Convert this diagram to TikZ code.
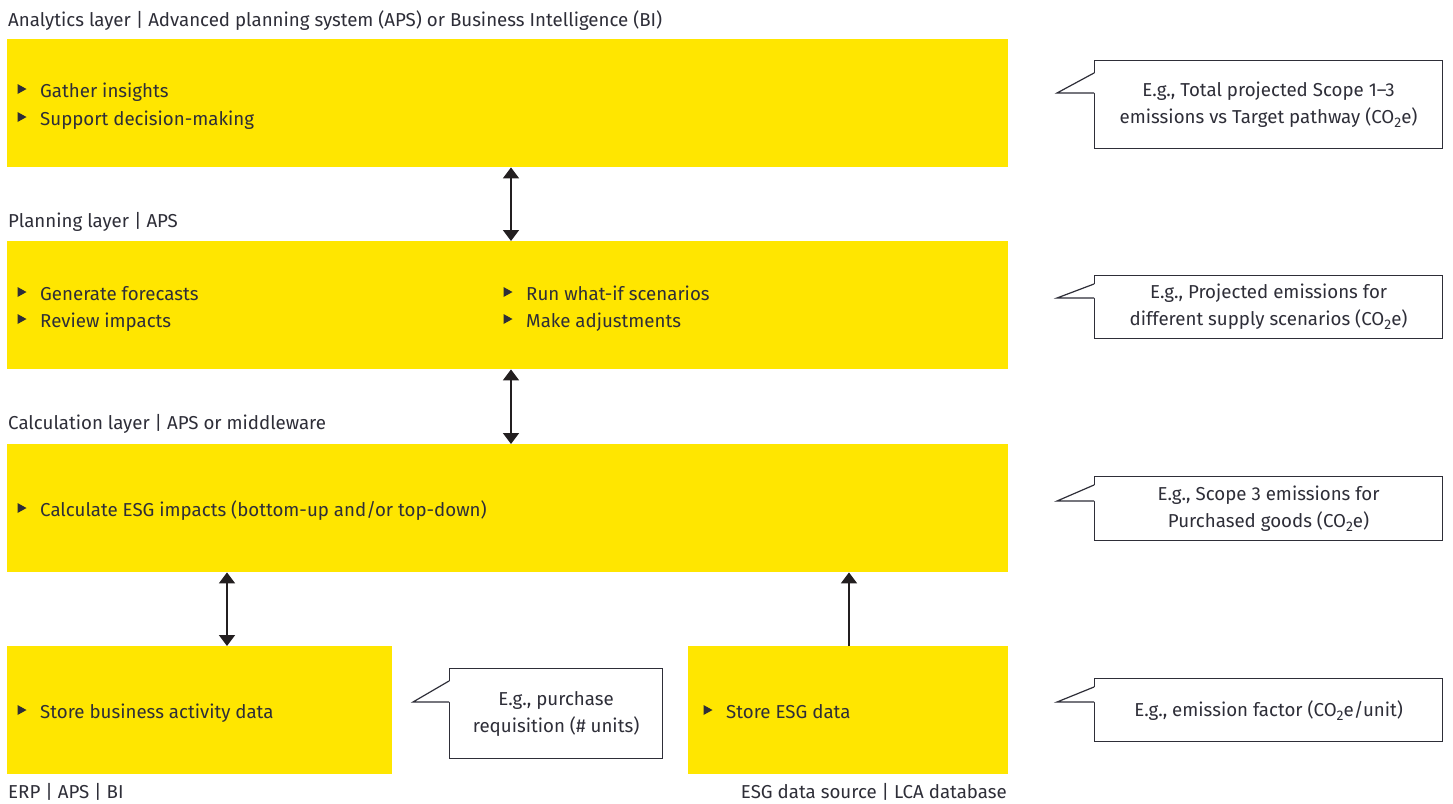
\documentclass[tikz,border=0pt]{standalone}
\usepackage{fontspec}
\setmainfont{Fira Sans}
\usetikzlibrary{arrows.meta,calc}
\definecolor{eyyellow}{HTML}{FFE600}
\definecolor{txt}{HTML}{2E2E38}
\definecolor{arr}{HTML}{231F20}
\newcommand\bitem[4]{%
  \fill[txt] ({#2-0.5},{#3-13}) -- ({#2-0.5},{#3-3}) -- ({#2+8.5},{#3-8}) -- cycle;
  \node[btext] (#1) at ({#2+22},#3) {#4};}
\newcommand\tail[4]{%
  \fill[white] ($(#1.north west)+(1,#2)$) -- ($(#1.north west)+(#4,#3)$) -- ($(#1.north west)+(1,#3)$) -- cycle;
  \draw[cbox] ($(#1.north west)+(0,#2)$) -- ($(#1.north west)+(#4,#3)$) -- ($(#1.north west)+(0,#3)$);}
\newcommand\subtwo{\raisebox{-4pt}{\fontsize{14}{14}\selectfont 2}}
\begin{document}
\begin{tikzpicture}[x=1pt,y=-1pt,
  font=\fontsize{18.7}{22}\selectfont, text=txt,
  layer/.style={fill=eyyellow, draw=none, anchor=north west, inner sep=0pt, minimum height=128pt},
  btext/.style={anchor=base west, inner sep=0pt},
  lbl/.style={anchor=base west, inner sep=0pt},
  cbox/.style={draw=txt, line width=1.2pt},
  callout/.style={cbox, fill=white, anchor=north west, inner sep=0pt, align=center,
    font=\fontsize{18.7}{27}\selectfont},
  dbl/.style={draw=arr, line width=1.8pt, {Triangle[width=16pt,length=11pt]}-{Triangle[width=16pt,length=11pt]}},
  sgl/.style={draw=arr, line width=1.8pt, -{Triangle[width=16pt,length=11pt]}}]
\useasboundingbox (0,0) rectangle (1453,803);
\fill[white] (0,0) rectangle (1453,803);
% layer boxes
\node[layer, minimum width=1001pt] (ana) at (7,39) {};
\node[layer, minimum width=1001pt] (plan) at (7,241) {};
\node[layer, minimum width=1001pt] (calc) at (7,444) {};
\node[layer, minimum width=385pt] (erp) at (7,646) {};
\node[layer, minimum width=320pt] (esg) at (688,646) {};
% layer labels
\node[lbl] (l1) at (8,26) {Analytics layer | Advanced planning system (APS) or Business Intelligence (BI)};
\node[lbl] (l2) at (8,227) {Planning layer | APS};
\node[lbl] (l3) at (8,429) {Calculation layer | APS or middleware};
\node[lbl] (l4) at (8,798) {ERP | APS | BI};
\node[anchor=base east, inner sep=0pt] (l5) at (1007,798) {ESG data source | LCA database};
% bullets
\bitem{b1}{18}{97}{Gather insights}
\bitem{b2}{18}{125}{Support decision-making}
\bitem{b3}{18}{300}{Generate forecasts}
\bitem{b4}{18}{327}{Review impacts}
\bitem{b5}{504}{300}{Run what-if scenarios}
\bitem{b6}{504}{327}{Make adjustments}
\bitem{b7}{18}{516}{Calculate ESG impacts (bottom-up and/or top-down)}
\bitem{b8}{18}{718}{Store business activity data}
\bitem{b9}{704}{718}{Store ESG data}
% arrows
\coordinate (xa) at (511,0);
\coordinate (xb) at (227,0);
\coordinate (xc) at (849,0);
\draw[dbl] (ana.south -| xa) -- (plan.north -| xa);
\draw[dbl] (plan.south -| xa) -- (calc.north -| xa);
\draw[dbl] (calc.south -| xb) -- (erp.north -| xb);
\draw[sgl] (esg.north -| xc) -- (calc.south -| xc);
% callouts
\node[callout, minimum width=348pt, minimum height=88pt] (c1) at (1094,60)
  {E.g., Total projected Scope 1–3\\emissions vs Target pathway (CO\subtwo e)};
\tail{c1}{13}{33}{-37}
\node[callout, minimum width=348pt, minimum height=63pt] (c2) at (1094,275)
  {E.g., Projected emissions for\\different supply scenarios (CO\subtwo e)};
\tail{c2}{9}{23}{-37}
\node[callout, minimum width=348pt, minimum height=64pt] (c3) at (1094,476)
  {E.g., Scope 3 emissions for\\Purchased goods (CO\subtwo e)};
\tail{c3}{9}{25}{-37}
\node[callout, minimum width=348pt, minimum height=63pt] (c4) at (1094,678)
  {E.g., emission factor (CO\subtwo e/unit)};
\tail{c4}{9}{24}{-37}
\node[callout, minimum width=213pt, minimum height=90pt] (c5) at (449,668)
  {E.g., purchase\\requisition (\# units)};
\tail{c5}{13}{34}{-36}
\end{tikzpicture}
\end{document}
